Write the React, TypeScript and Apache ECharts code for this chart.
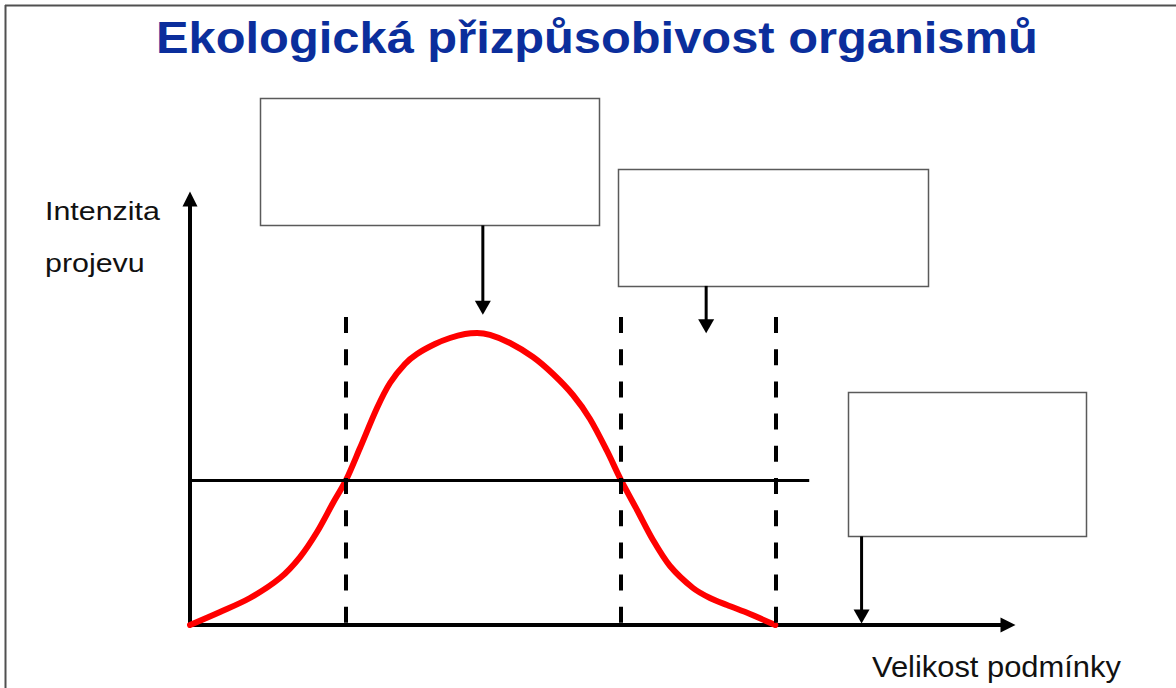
import React, { useEffect, useRef } from "react";
import * as echarts from "echarts";

// ---- texts ----
const TITLE = "Ekologická přizpůsobivost organismů";
const Y_LABEL_LINES = ["Intenzita", "projevu"];
const X_LABEL = "Velikost podmínky";

// ---- axis ranges (arbitrary units) ----
const X_MIN = 0;
const X_MAX = 100;
const Y_MIN = 0;
const Y_MAX = 100;

// ---- response curve: condition value -> intensity ----
const curveX = [0, 3.67, 7.33, 11.0, 13.45, 15.53, 17.48, 19.07, 20.78, 22.86, 24.45, 26.28, 27.75, 29.95, 31.78, 33.62, 35.09, 36.67, 39.12, 41.93, 44.38, 46.82, 48.9, 50.98, 52.69, 54.65, 56.6, 58.68, 61.49, 63.57, 65.65, 68.46, 71.55];
const curveY = [0, 3.05, 6.34, 11.03, 15.96, 21.83, 28.64, 34.0, 41.55, 50.94, 56.81, 61.27, 63.62, 65.96, 67.37, 68.31, 68.54, 68.08, 66.2, 62.91, 58.92, 53.99, 48.36, 40.85, 34.0, 27.0, 19.95, 13.85, 8.69, 6.34, 4.69, 2.58, 0];

// ---- limits (dashed verticals) and threshold (horizontal line) ----
const limitX = [19.07, 52.69, 71.55];
const limitTop = 72.3;
const thresholdY = 34.0;
const thresholdEndX = 75.7;

// ---- empty label boxes with arrows (data units) ----
const boxX0 = [8.6, 52.3, 80.4];
const boxX1 = [50.0, 90.2, 109.5];
const boxTop = [123.7, 107.0, 54.7];
const boxBottom = [93.8, 79.6, 20.8];
const arrowX = [35.8, 63.1, 82.1];
const arrowTipY = [72.8, 68.5, 0.35];

export default function App() {
  const ref = useRef<HTMLDivElement>(null);

  useEffect(() => {
    if (!ref.current) return;
    const chart = echarts.init(ref.current, undefined, { renderer: "svg" });
    const font = "'Liberation Sans', Arial, Helvetica, sans-serif";

    const labelText = (text: string, x: number, y: number, size: number, scaleX: number) => ({
      type: "text",
      x,
      y,
      scaleX,
      style: {
        text,
        fontFamily: font,
        fontSize: size,
        fill: "#111",
        align: "left",
        verticalAlign: "middle",
      },
    });

    const option: any = {
      animation: false,
      backgroundColor: "#ffffff",
      grid: { left: 190, right: 168, top: 199, bottom: 63, containLabel: false },
      xAxis: {
        type: "value",
        min: X_MIN,
        max: X_MAX,
        axisLine: {
          show: true,
          onZero: false,
          symbol: ["none", "triangle"],
          symbolSize: [15, 15],
          lineStyle: { color: "#000", width: 4 },
        },
        axisTick: { show: false },
        axisLabel: { show: false },
        splitLine: { show: false },
      },
      yAxis: {
        type: "value",
        min: Y_MIN,
        max: Y_MAX,
        axisLine: {
          show: true,
          onZero: false,
          symbol: ["none", "triangle"],
          symbolSize: [15, 15],
          lineStyle: { color: "#000", width: 4 },
        },
        axisTick: { show: false },
        axisLabel: { show: false },
        splitLine: { show: false },
      },
      graphic: [
        {
          type: "line",
          shape: { x1: 5.5, y1: 5, x2: 5.5, y2: 688 },
          style: { stroke: "#505050", lineWidth: 2 },
        },
        {
          type: "line",
          shape: { x1: 5, y1: 5.5, x2: 1176, y2: 5.5 },
          style: { stroke: "#505050", lineWidth: 2 },
        },
        {
          type: "text",
          x: 156,
          y: 37.5,
          scaleX: 1.11,
          style: {
            text: TITLE,
            fontFamily: font,
            fontSize: 44,
            fontWeight: "bold",
            fill: "#0b2e9c",
            align: "left",
            verticalAlign: "middle",
          },
        },
        labelText(Y_LABEL_LINES[0], 45, 210.5, 26, 1.17),
        labelText(Y_LABEL_LINES[1], 45, 263, 26, 1.17),
        labelText(X_LABEL, 872, 666, 30, 1.03),
      ],
      series: [
        {
          type: "custom",
          name: "boxes",
          clip: false,
          z: 2,
          encode: { x: [0, 1], y: [2, 3] },
          data: boxX0.map((x, i) => [x, boxX1[i], boxTop[i], boxBottom[i]]),
          renderItem: (params: any, api: any) => {
            const p0 = api.coord([api.value(0), api.value(2)]);
            const p1 = api.coord([api.value(1), api.value(3)]);
            return {
              type: "rect",
              shape: {
                x: Math.round(p0[0]) + 0.5,
                y: Math.round(p0[1]) + 0.5,
                width: Math.round(p1[0] - p0[0]),
                height: Math.round(p1[1] - p0[1]),
              },
              style: { fill: "#ffffff", stroke: "#5a5a5a", lineWidth: 1.5 },
            };
          },
        },
        {
          type: "line",
          name: "curve",
          data: curveX.map((x, i) => [x, curveY[i]]),
          smooth: 0.3,
          symbol: "none",
          z: 3,
          lineStyle: { color: "#ff0000", width: 6, cap: "round", join: "round" },
        },
        {
          type: "lines",
          name: "limits",
          coordinateSystem: "cartesian2d",
          z: 4,
          data: limitX.map((x) => ({ coords: [[x, limitTop], [x, Y_MIN]] })),
          lineStyle: { color: "#000", width: 4, type: [16, 16.2], opacity: 1 },
        },
        {
          type: "lines",
          name: "threshold",
          coordinateSystem: "cartesian2d",
          z: 4,
          data: [{ coords: [[X_MIN, thresholdY], [thresholdEndX, thresholdY]] }],
          lineStyle: { color: "#000", width: 3, type: "solid", opacity: 1 },
        },
        {
          type: "custom",
          name: "arrows",
          clip: false,
          z: 5,
          encode: { x: 0, y: [1, 2] },
          data: arrowX.map((x, i) => [x, boxBottom[i], arrowTipY[i]]),
          renderItem: (params: any, api: any) => {
            const start = api.coord([api.value(0), api.value(1)]);
            const tip = api.coord([api.value(0), api.value(2)]);
            const headLen = 14;
            const headHalf = 8;
            return {
              type: "group",
              children: [
                {
                  type: "line",
                  shape: { x1: tip[0], y1: start[1], x2: tip[0], y2: tip[1] - headLen + 1 },
                  style: { stroke: "#000", lineWidth: 3 },
                },
                {
                  type: "polygon",
                  shape: {
                    points: [
                      [tip[0], tip[1]],
                      [tip[0] - headHalf, tip[1] - headLen],
                      [tip[0] + headHalf, tip[1] - headLen],
                    ],
                  },
                  style: { fill: "#000" },
                },
              ],
            };
          },
        },
      ],
    };

    chart.setOption(option);
    return () => chart.dispose();
  }, []);

  return (
    <div
      ref={ref}
      style={{ position: "absolute", left: 0, top: 0, width: 1176, height: 688, background: "#fff" }}
    />
  );
}
